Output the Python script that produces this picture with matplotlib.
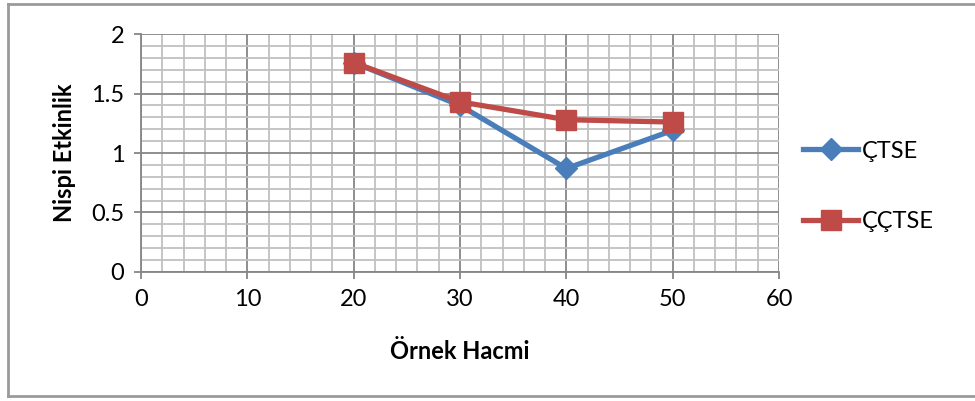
import matplotlib.pyplot as plt
from matplotlib.lines import Line2D
from matplotlib.ticker import MultipleLocator

# Data
orneklem = [20, 30, 40, 50]
ctse = [1.76, 1.40, 0.87, 1.19]
cctse = [1.76, 1.43, 1.28, 1.26]

plt.rcParams['font.family'] = ['Lato', 'DejaVu Sans']

fig = plt.figure(figsize=(9.75, 4.01), dpi=100)
ax = fig.add_axes([0.1446, 0.3217, 0.6544, 0.5935])

ax.plot(orneklem, ctse, color='#4A7EBB', lw=3.8, marker='D', ms=11,
        label='ÇTSE', zorder=3)
ax.plot(orneklem, cctse, color='#BE4B48', lw=3.8, marker='s', ms=14,
        label='ÇÇTSE', zorder=4)

ax.set_xlim(0, 60)
ax.set_ylim(0, 2)
ax.xaxis.set_major_locator(MultipleLocator(10))
ax.xaxis.set_minor_locator(MultipleLocator(2))
ax.yaxis.set_major_locator(MultipleLocator(0.5))
ax.yaxis.set_minor_locator(MultipleLocator(0.1))
ax.set_yticks([0, 0.5, 1, 1.5, 2])
ax.set_yticklabels(['0', '0.5', '1', '1.5', '2'])

ax.grid(which='major', color='#868686', lw=1.3)
ax.grid(which='minor', color='#C0C0C0', lw=1.3)
ax.set_axisbelow(True)

for s in ['top', 'right']:
    ax.spines[s].set_visible(False)
for s in ['left', 'bottom']:
    ax.spines[s].set_color('#868686')
    ax.spines[s].set_linewidth(1.3)

ax.tick_params(which='major', direction='out', length=5, width=1.3,
               color='#868686', labelsize=17, pad=7)
ax.tick_params(which='minor', length=0)

ax.set_xlabel('Örnek Hacmi', fontsize=17, fontweight='bold', labelpad=22)
ax.set_ylabel('Nispi Etkinlik', fontsize=17, fontweight='bold', labelpad=11)

fig.legend(loc='center left', bbox_to_anchor=(0.8236, 0.535), frameon=False,
           fontsize=17, handlelength=2.33, handletextpad=0.17,
           labelspacing=2.1, borderpad=0, borderaxespad=0)

# Outer chart border (left, top, bottom)
border = dict(color='#9A9A9A', lw=2, transform=fig.transFigure)
fig.add_artist(Line2D([0.0085, 0.0085], [0.012, 0.99], **border))
fig.add_artist(Line2D([0.0085, 1.0], [0.99, 0.99], **border))
fig.add_artist(Line2D([0.0085, 1.0], [0.012, 0.012], **border))

fig.savefig('out.png', dpi=100)
